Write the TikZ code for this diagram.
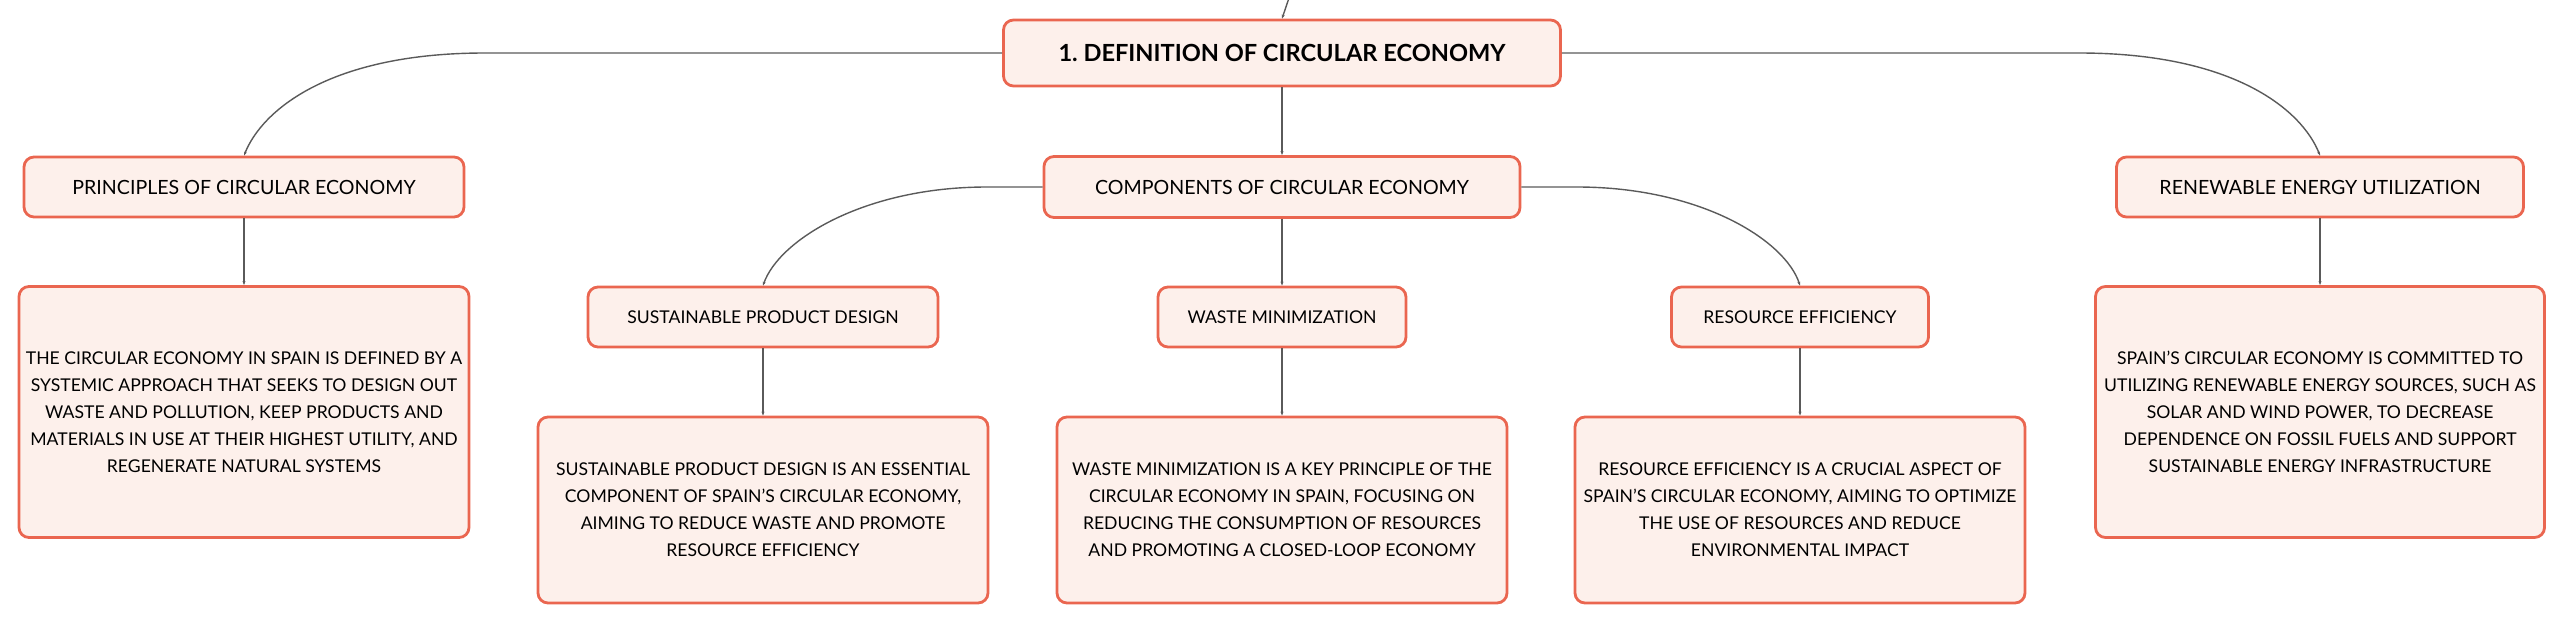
\documentclass[tikz,border=0pt]{standalone}
\usepackage{fontspec}
\setmainfont{Lato}
\usepackage{tikz}
\usetikzlibrary{arrows.meta}
\definecolor{boxfill}{HTML}{FDF0EB}
\definecolor{boxline}{HTML}{EA6650}
\definecolor{linkgray}{HTML}{5A5A5A}
\frenchspacing

\begin{document}
\begin{tikzpicture}[x=1pt,y=-1pt]
\useasboundingbox (0,0) rectangle (2565,624);
\begin{scope}[every node/.style={draw=boxline,fill=boxfill,line width=2.8pt,rounded corners=10pt,align=center,inner sep=0pt}]
    \node[minimum width=557pt,minimum height=66pt,font=\bfseries\fontsize{23.6}{28}\selectfont] (def) at (1282,53) {1. DEFINITION OF CIRCULAR ECONOMY};
    \node[minimum width=440pt,minimum height=60pt,font=\fontsize{19.6}{24}\selectfont] (princ) at (244,187) {PRINCIPLES OF CIRCULAR ECONOMY};
    \node[minimum width=476pt,minimum height=61pt,font=\fontsize{19.6}{24}\selectfont] (comp) at (1282,187) {COMPONENTS OF CIRCULAR ECONOMY};
    \node[minimum width=407pt,minimum height=60pt,font=\fontsize{19.6}{24}\selectfont] (renew) at (2320,187) {RENEWABLE ENERGY UTILIZATION};
    \node[minimum width=350pt,minimum height=60pt,font=\fontsize{17.6}{22}\selectfont] (design) at (763,317) {SUSTAINABLE PRODUCT DESIGN};
    \node[minimum width=248pt,minimum height=60pt,font=\fontsize{17.6}{22}\selectfont] (waste) at (1282,317) {WASTE MINIMIZATION};
    \node[minimum width=257pt,minimum height=60pt,font=\fontsize{17.6}{22}\selectfont] (effic) at (1800,317) {RESOURCE EFFICIENCY};
\end{scope}
\begin{scope}[every node/.style={draw=boxline,fill=boxfill,line width=2.8pt,rounded corners=10pt,align=center,inner sep=0pt,font=\fontsize{17.6}{27}\selectfont}]
    \node[minimum width=450pt,minimum height=251pt] (princtxt) at (244,412) {THE CIRCULAR ECONOMY IN SPAIN IS DEFINED BY A\\SYSTEMIC APPROACH THAT SEEKS TO DESIGN OUT\\WASTE AND POLLUTION, KEEP PRODUCTS AND\\MATERIALS IN USE AT THEIR HIGHEST UTILITY, AND\\REGENERATE NATURAL SYSTEMS};
    \node[minimum width=449pt,minimum height=251pt] (renewtxt) at (2320,412) {SPAIN'S CIRCULAR ECONOMY IS COMMITTED TO\\UTILIZING RENEWABLE ENERGY SOURCES, SUCH AS\\SOLAR AND WIND POWER, TO DECREASE\\DEPENDENCE ON FOSSIL FUELS AND SUPPORT\\SUSTAINABLE ENERGY INFRASTRUCTURE};
    \node[minimum width=450pt,minimum height=186pt] (designtxt) at (763,510) {SUSTAINABLE PRODUCT DESIGN IS AN ESSENTIAL\\COMPONENT OF SPAIN'S CIRCULAR ECONOMY,\\AIMING TO REDUCE WASTE AND PROMOTE\\RESOURCE EFFICIENCY};
    \node[minimum width=450pt,minimum height=186pt] (wastetxt) at (1282,510) {WASTE MINIMIZATION IS A KEY PRINCIPLE OF THE\\CIRCULAR ECONOMY IN SPAIN, FOCUSING ON\\REDUCING THE CONSUMPTION OF RESOURCES\\AND PROMOTING A CLOSED-LOOP ECONOMY};
    \node[minimum width=450pt,minimum height=186pt] (effictxt) at (1800,510) {RESOURCE EFFICIENCY IS A CRUCIAL ASPECT OF\\SPAIN'S CIRCULAR ECONOMY, AIMING TO OPTIMIZE\\THE USE OF RESOURCES AND REDUCE\\ENVIRONMENTAL IMPACT};
\end{scope}

\coordinate (up) at (1289,-2);

\begin{scope}[>={Stealth[linkgray,length=4pt,width=3pt]},
              every edge/.style={draw=linkgray,line width=1.4pt}]
    \path [->] (up) edge (def.north);
    \path [->] (def) edge (comp);
    \path [->] (comp) edge (waste);
    \path [->] (princ) edge (princtxt);
    \path [->] (renew) edge (renewtxt);
    \path [->] (design) edge (designtxt);
    \path [->] (waste) edge (wastetxt);
    \path [->] (effic) edge (effictxt);
\end{scope}

% curved links from the side of a box down to the top of the next
\begin{scope}[>={Stealth[linkgray,length=4pt,width=3pt]},draw=linkgray,line width=1.4pt]
    \draw [->] (def.west) -- (485,53) .. controls (330,53) and (262,110) .. (princ.north);
    \draw [->] (def.east) -- (2079,53) .. controls (2234,53) and (2302,110) .. (renew.north);
    \draw [->] (comp.west) -- (987,187) .. controls (864,187) and (779,240) .. (design.north);
    \draw [->] (comp.east) -- (1577,187) .. controls (1700,187) and (1785,240) .. (effic.north);
\end{scope}

\end{tikzpicture}
\end{document}
